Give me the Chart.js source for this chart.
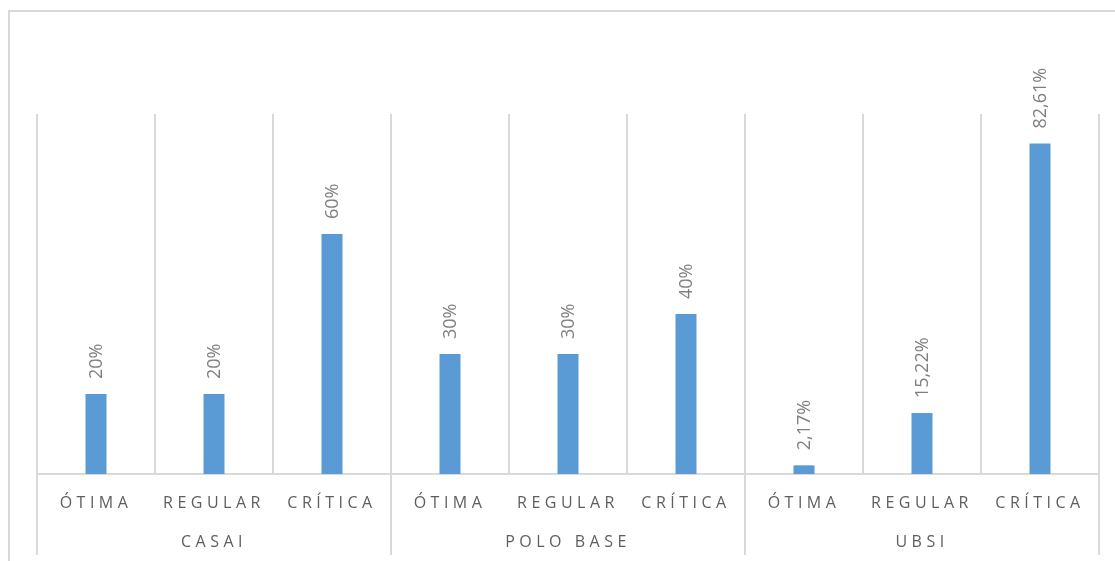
<!DOCTYPE html>
<html lang="pt-BR">
<head>
<meta charset="utf-8">
<title>Avaliação por unidade</title>
<script src="https://cdn.jsdelivr.net/npm/chart.js@4"></script>
<style>
  html, body { margin: 0; padding: 0; background: #ffffff; overflow: hidden; }
  #frame {
    position: absolute; left: 8px; top: 10px;
    width: 1110px; height: 600px;
    border: 2px solid #d9d9d9; box-sizing: border-box;
  }
  #chart { position: absolute; left: 0; top: 0; }
</style>
</head>
<body>
<div id="frame"></div>
<canvas id="chart" width="1115" height="561"></canvas>
<script>
// Units and rating levels
const groups = ['CASAI', 'POLO BASE', 'UBSI'];
const ratings = ['ÓTIMA', 'REGULAR', 'CRÍTICA'];

// Share of each rating per unit (%), in the order CASAI, POLO BASE, UBSI
const values = [20, 20, 60, 30, 30, 40, 2.17, 15.22, 82.61];

// Two-line category labels: rating on top, unit name under the middle rating
const labels = [];
groups.forEach(g => {
  ratings.forEach((r, i) => labels.push([r, i === 1 ? g : '']));
});

const fmtPct = v => String(v).replace('.', ',') + '%';

const GRID = '#d9d9d9';

// Spaced-out capitals for the axis text, normal spacing for everything else
const letterSpacingPlugin = {
  id: 'axisLetterSpacing',
  beforeDraw(chart) { chart.ctx.letterSpacing = '4.5px'; },
  beforeDatasetsDraw(chart) { chart.ctx.letterSpacing = '0px'; }
};

// Vertical value labels above each bar
const valueLabelPlugin = {
  id: 'valueLabels',
  afterDatasetsDraw(chart) {
    const ctx = chart.ctx;
    const meta = chart.getDatasetMeta(0);
    const data = chart.data.datasets[0].data;
    ctx.save();
    ctx.letterSpacing = '0px';
    ctx.font = '18px "Open Sans", sans-serif';
    ctx.fillStyle = '#7f7f7f';
    ctx.textAlign = 'left';
    ctx.textBaseline = 'middle';
    meta.data.forEach((bar, i) => {
      ctx.save();
      ctx.translate(bar.x + 1, bar.y - 15);
      ctx.rotate(-Math.PI / 2);
      ctx.fillText(fmtPct(data[i]), 0, 0);
      ctx.restore();
    });
    ctx.restore();
  }
};

new Chart(document.getElementById('chart'), {
  type: 'bar',
  data: {
    labels: labels,
    datasets: [{
      data: values,
      backgroundColor: '#5b9bd5',
      borderWidth: 0,
      barPercentage: 0.178,
      categoryPercentage: 1.0
    }]
  },
  options: {
    responsive: false,
    animation: false,
    events: [],
    layout: { padding: { left: 37, right: 16, top: 114, bottom: 87 } },
    plugins: {
      legend: { display: false },
      tooltip: { enabled: false },
      title: { display: false }
    },
    scales: {
      x: {
        offset: true,
        grid: {
          display: true,
          offset: true,
          drawOnChartArea: true,
          drawTicks: true,
          tickLength: 81,
          color: GRID,
          lineWidth: 2,
          tickWidth: 2,
          tickColor: ctx => (ctx.index === undefined || ctx.index % 3 === 0) ? GRID : 'rgba(0,0,0,0)'
        },
        border: { display: true, color: GRID, width: 2 },
        ticks: {
          autoSkip: false,
          mirror: true,
          maxRotation: 0,
          minRotation: 0,
          padding: -48.5,
          color: '#5e5e5e',
          font: { family: '"Open Sans", sans-serif', size: 16, lineHeight: '39px' }
        }
      },
      y: {
        display: false,
        min: 0,
        max: 90
      }
    }
  },
  plugins: [letterSpacingPlugin, valueLabelPlugin]
});
</script>
</body>
</html>
